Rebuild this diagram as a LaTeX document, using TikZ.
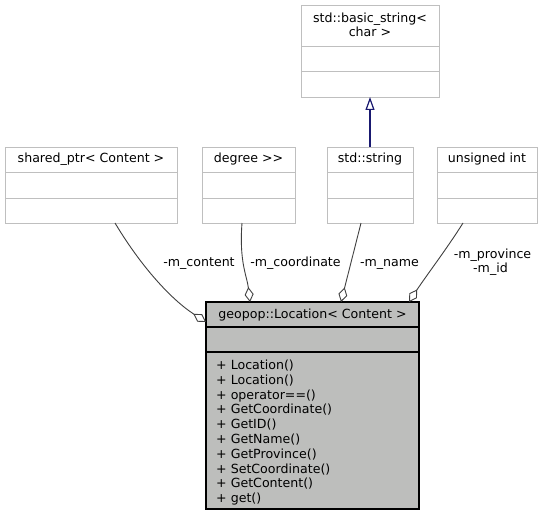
\documentclass[tikz,border=0pt]{standalone}
\usepackage{fontspec}
\setmainfont{DejaVu Sans}[Ligatures=NoCommon]
\usetikzlibrary{arrows.meta,calc}
\definecolor{boxgray}{RGB}{191,191,191}
\definecolor{maingray}{RGB}{189,190,188}
\definecolor{edgegray}{RGB}{64,64,64}
\definecolor{midblue}{RGB}{25,25,112}
\newcommand\dvs{\fontsize{12.6}{14.8}\selectfont}
\begin{document}
\begin{tikzpicture}[x=1pt,y=1pt,
  cbox/.style={draw=boxgray, line width=0.9pt, fill=white, inner sep=0pt, outer sep=0pt, anchor=north west},
  mbox/.style={draw=black, line width=1.2pt, fill=maingray, inner sep=0pt, outer sep=0pt, anchor=north west},
  txt/.style={inner sep=0pt, font=\dvs, anchor=base},
  mtxt/.style={inner sep=0pt, font=\dvs, anchor=base west},
  aggr/.style={draw=edgegray, line width=0.9pt, -{Diamond[open, length=15pt, width=9pt]}},
  inh/.style={draw=midblue, line width=1.2pt, -{Triangle[open, length=13pt, width=9pt]}}]
\useasboundingbox (0,0) rectangle (543,-516);
\fill[white] (0,0) rectangle (543,-516);

% std::basic_string< char >
\node[cbox, minimum width=138, minimum height=41] (bsA) at (301,-5) {};
\node[cbox, minimum width=138, minimum height=25] (bsB) at (301,-46) {};
\node[cbox, minimum width=138, minimum height=26] (bsC) at (301,-71) {};
\node[txt] (bsT1) at (370,-22.5) {std::basic\_string<};
\node[txt] (bsT2) at (370,-36.5) {char >};

% shared_ptr< Content >
\node[cbox, minimum width=172, minimum height=25] (spA) at (5,-147) {};
\node[cbox, minimum width=172, minimum height=26] (spB) at (5,-172) {};
\node[cbox, minimum width=172, minimum height=25] (spC) at (5,-198) {};
\node[txt] (spT) at (91,-162.5) {shared\_ptr< Content >};

% degree >>
\node[cbox, minimum width=93, minimum height=25] (dgA) at (202,-147) {};
\node[cbox, minimum width=93, minimum height=26] (dgB) at (202,-172) {};
\node[cbox, minimum width=93, minimum height=25] (dgC) at (202,-198) {};
\node[txt] (dgT) at (248.5,-162.5) {degree {>}{>}};

% std::string
\node[cbox, minimum width=86, minimum height=25] (ssA) at (327,-147) {};
\node[cbox, minimum width=86, minimum height=26] (ssB) at (327,-172) {};
\node[cbox, minimum width=86, minimum height=25] (ssC) at (327,-198) {};
\node[txt] (ssT) at (370,-162.5) {std::string};

% unsigned int
\node[cbox, minimum width=100, minimum height=25] (uiA) at (437,-147) {};
\node[cbox, minimum width=100, minimum height=26] (uiB) at (437,-172) {};
\node[cbox, minimum width=100, minimum height=25] (uiC) at (437,-198) {};
\node[txt] (uiT) at (487,-162.5) {unsigned int};

% geopop::Location< Content >
\node[mbox, minimum width=213, minimum height=25] (mA) at (206,-302) {};
\node[mbox, minimum width=213, minimum height=25] (mB) at (206,-327) {};
\node[mbox, minimum width=213, minimum height=157] (mC) at (206,-352) {};
\node[txt] (mT) at (312.5,-318) {geopop::Location< Content >};
\foreach \m [count=\i from 0] in {Location(),Location(),operator==(),GetCoordinate(),GetID(),GetName(),GetProvince(),SetCoordinate(),GetContent(),get()}
  \node[mtxt] (meth\i) at (216,-369.5-14.8*\i) {+ \m};

% connectors
\coordinate (e1a) at (115,-223);
\coordinate (e1b) at (206,-322);
\coordinate (e2a) at (242,-223);
\coordinate (e2b) at (250,-302);
\coordinate (e3a) at (361,-223);
\coordinate (e3b) at (341,-302);
\coordinate (e4a) at (463,-223);
\coordinate (e4b) at (409,-302);
\coordinate (iha) at (370,-147);
\coordinate (ihb) at (370,-97);

\draw[aggr] (e1a) .. controls (142,-268) and (172,-300) .. (e1b);
\draw[aggr] (e2a) .. controls (239,-262) and (247,-276) .. (e2b);
\draw[aggr] (e3a) -- (e3b);
\draw[aggr] (e4a) .. controls (446,-250) and (426,-276) .. (e4b);
\draw[inh] (iha) -- (ihb);

% labels
\node[txt] (l1) at (199,-266) {-m\_content};
\node[txt] (l2) at (295.5,-266) {-m\_coordinate};
\node[txt] (l3) at (389.5,-266) {-m\_name};
\node[txt] (l4) at (492.5,-258) {-m\_province};
\node[txt] (l5) at (490.5,-272) {-m\_id};
\end{tikzpicture}
\end{document}
